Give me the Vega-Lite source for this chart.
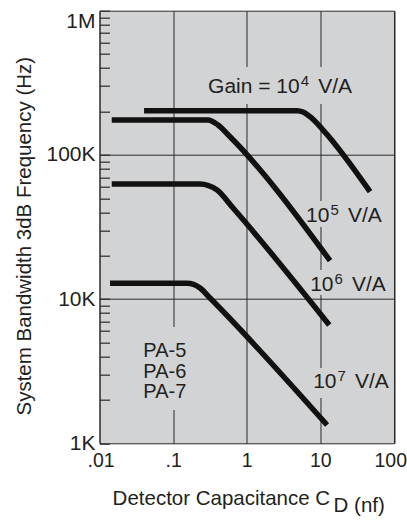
{
  "$schema": "https://vega.github.io/schema/vega-lite/v6.json",
  "width": 294.5,
  "height": 432.6,
  "autosize": {"type": "none"},
  "padding": {"left": 99.5, "top": 10.7, "right": 13, "bottom": 77.9},
  "background": "white",
  "config": {
    "view": {"fill": "#d1d3d4", "stroke": "#2a2a2a", "strokeWidth": 1},
    "font": "Liberation Sans",
    "text": {"font": "Liberation Sans", "color": "#231f20"},
    "axis": {"labelFont": "Liberation Sans", "titleFont": "Liberation Sans", "labelColor": "#231f20", "titleColor": "#231f20"}
  },
  "datasets": {
    "curves": [
      {"gain": "1e4", "x": 0.0403, "y": 202600},
      {"gain": "1e4", "x": 4.82, "y": 202600},
      {"gain": "1e4", "x": 5.82, "y": 198400},
      {"gain": "1e4", "x": 7.24, "y": 184000},
      {"gain": "1e4", "x": 10.9, "y": 148800},
      {"gain": "1e4", "x": 47.3, "y": 55600},
      {"gain": "1e5", "x": 0.01466, "y": 174600},
      {"gain": "1e5", "x": 0.298, "y": 174600},
      {"gain": "1e5", "x": 0.407, "y": 161200},
      {"gain": "1e5", "x": 0.593, "y": 133700},
      {"gain": "1e5", "x": 13.55, "y": 18460},
      {"gain": "1e6", "x": 0.01466, "y": 62850},
      {"gain": "1e6", "x": 0.232, "y": 62850},
      {"gain": "1e6", "x": 0.395, "y": 57100},
      {"gain": "1e6", "x": 0.652, "y": 42800},
      {"gain": "1e6", "x": 13.2, "y": 6610},
      {"gain": "1e7", "x": 0.0139, "y": 12870},
      {"gain": "1e7", "x": 0.1545, "y": 12870},
      {"gain": "1e7", "x": 0.232, "y": 11940},
      {"gain": "1e7", "x": 0.317, "y": 10180},
      {"gain": "1e7", "x": 12.33, "y": 1339}
    ],
    "masks": [
      {"x": 0.232, "x2": 34.6, "y": 407000, "y2": 225000},
      {"x": 5.64, "x2": 78.1, "y": 47900, "y2": 31600},
      {"x": 6.39, "x2": 83.2, "y": 15900, "y2": 10680},
      {"x": 6.81, "x2": 94, "y": 3330, "y2": 2060},
      {"x": 0.0334, "x2": 0.1697, "y": 6410, "y2": 1700}
    ],
    "gains": [
      {"main": "Gain = 10", "exp": "4", "unit": "V/A", "x": 5.23, "y": 267000},
      {"main": "10", "exp": "5", "unit": "V/A", "x": 13.29, "y": 34400},
      {"main": "10", "exp": "6", "unit": "V/A", "x": 15.07, "y": 11380},
      {"main": "10", "exp": "7", "unit": "V/A", "x": 16.55, "y": 2406}
    ],
    "models": [
      {"label": "PA-5", "x": 0.0394, "y": 3990},
      {"label": "PA-6", "x": 0.0394, "y": 2824},
      {"label": "PA-7", "x": 0.0394, "y": 2050}
    ],
    "xtitle": [
      {"t1": "Detector Capacitance C", "t2": "D (nf)", "x": 13.55, "y": 1000}
    ]
  },
  "layer": [
    {
      "data": {"name": "masks"},
      "mark": {"type": "rect", "fill": "#d1d3d4"},
      "encoding": {
        "x": {
          "field": "x", "type": "quantitative",
          "scale": {"type": "log", "domain": [0.01, 100], "nice": false},
          "axis": {
            "title": null,
            "values": [0.01, 0.1, 1, 10, 100],
            "labelExpr": "datum.value == 0.01 ? '.01' : datum.value == 0.1 ? '.1' : datum.value == 1 ? '1' : datum.value == 10 ? '10' : '100'",
            "grid": true, "gridColor": "#2a2a2a", "gridWidth": 1,
            "ticks": false, "domain": false,
            "labelPadding": 8, "labelFontSize": 19.5,
            "labelFlush": true, "labelFlushOffset": 12.5, "labelOverlap": false
          }
        },
        "x2": {"field": "x2"},
        "y": {
          "field": "y", "type": "quantitative",
          "scale": {"type": "log", "domain": [1000, 1000000], "nice": false},
          "axis": {
            "title": "System Bandwidth 3dB Frequency (Hz)",
            "titleFontSize": 20.5, "titleFontWeight": "normal", "titlePadding": 11, "titleY": 225,
            "values": [1000, 2000, 3000, 4000, 5000, 6000, 7000, 8000, 9000, 10000, 20000, 30000, 40000, 50000, 60000, 70000, 80000, 90000, 100000, 200000, 300000, 400000, 500000, 600000, 700000, 800000, 900000, 1000000],
            "labelExpr": "datum.value == 1000 ? '1K' : datum.value == 10000 ? '10K' : datum.value == 100000 ? '100K' : datum.value == 1000000 ? '1M' : ''",
            "labelBaseline": {"condition": {"test": "datum.value == 1000000", "value": "top"}, "value": "middle"},
            "grid": true, "gridColor": "#2a2a2a", "gridWidth": 1,
            "gridOpacity": {"condition": {"test": "datum.value == 10000 || datum.value == 100000", "value": 1}, "value": 0},
            "tickSize": -10, "tickColor": "#2a2a2a", "tickWidth": 1.2,
            "domain": false,
            "labelPadding": 14.5, "labelFontSize": 21,
            "labelFlush": false, "labelOverlap": false
          }
        },
        "y2": {"field": "y2"}
      }
    },
    {
      "data": {"name": "curves"},
      "mark": {"type": "line", "color": "#111111", "strokeWidth": 5.5, "interpolate": "monotone", "strokeCap": "butt"},
      "encoding": {
        "x": {"field": "x", "type": "quantitative"},
        "y": {"field": "y", "type": "quantitative"},
        "detail": {"field": "gain"}
      }
    },
    {
      "data": {"name": "gains"},
      "mark": {"type": "text", "align": "right", "baseline": "alphabetic", "fontSize": 21},
      "encoding": {
        "x": {"field": "x", "type": "quantitative"},
        "y": {"field": "y", "type": "quantitative"},
        "text": {"field": "main"}
      }
    },
    {
      "data": {"name": "gains"},
      "mark": {"type": "text", "align": "left", "baseline": "alphabetic", "fontSize": 15, "dx": 1, "dy": -7},
      "encoding": {
        "x": {"field": "x", "type": "quantitative"},
        "y": {"field": "y", "type": "quantitative"},
        "text": {"field": "exp"}
      }
    },
    {
      "data": {"name": "gains"},
      "mark": {"type": "text", "align": "left", "baseline": "alphabetic", "fontSize": 21, "dx": 18.5},
      "encoding": {
        "x": {"field": "x", "type": "quantitative"},
        "y": {"field": "y", "type": "quantitative"},
        "text": {"field": "unit"}
      }
    },
    {
      "data": {"name": "models"},
      "mark": {"type": "text", "align": "left", "baseline": "alphabetic", "fontSize": 20},
      "encoding": {
        "x": {"field": "x", "type": "quantitative"},
        "y": {"field": "y", "type": "quantitative"},
        "text": {"field": "label"}
      }
    },
    {
      "data": {"name": "xtitle"},
      "mark": {"type": "text", "align": "right", "baseline": "alphabetic", "fontSize": 20.5, "dy": 61.7},
      "encoding": {
        "x": {"field": "x", "type": "quantitative"},
        "y": {"field": "y", "type": "quantitative"},
        "text": {"field": "t1"}
      }
    },
    {
      "data": {"name": "xtitle"},
      "mark": {"type": "text", "align": "left", "baseline": "alphabetic", "fontSize": 20.5, "dx": 3.5, "dy": 68.5},
      "encoding": {
        "x": {"field": "x", "type": "quantitative"},
        "y": {"field": "y", "type": "quantitative"},
        "text": {"field": "t2"}
      }
    }
  ]
}
